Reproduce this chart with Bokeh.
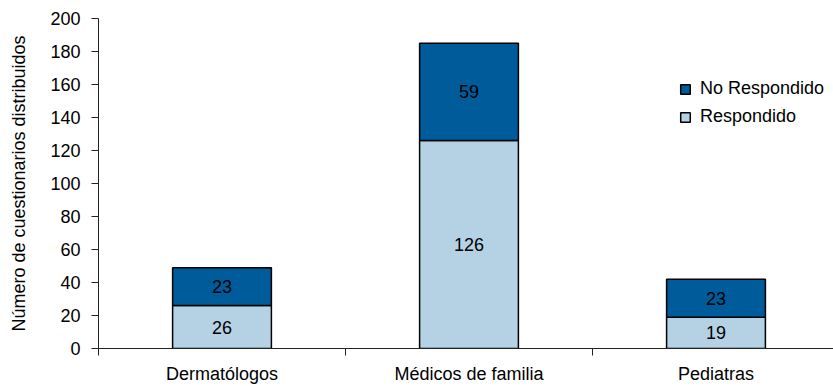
from bokeh.plotting import figure
from bokeh.models import Range1d, FixedTicker, Legend, LegendItem, ColumnDataSource
from bokeh.core.properties import value
from bokeh.embed import file_html
from bokeh.resources import INLINE

categories = ["Dermatólogos", "Médicos de familia", "Pediatras"]
respondido = [26, 126, 19]
no_respondido = [23, 59, 23]
y_ticks = [0, 20, 40, 60, 80, 100, 120, 140, 160, 180, 200]
y_label = "Número de cuestionarios distribuidos"
series_names = ["Respondido", "No Respondido"]

FONT = "Liberation Sans"
DARK = "#005B9B"
LIGHT = "#B5D1E4"

xs = [i + 0.5 for i in range(len(categories))]
totals = [a + b for a, b in zip(respondido, no_respondido)]

src = ColumnDataSource(dict(
    x=xs, resp=respondido, nores=no_respondido, total=totals,
    resp_mid=[r / 2 for r in respondido],
    nores_mid=[r + n / 2 for r, n in zip(respondido, no_respondido)],
    resp_txt=[str(v) for v in respondido],
    nores_txt=[str(v) for v in no_respondido],
))

p = figure(width=833, height=386, output_backend="svg", toolbar_location=None,
           x_range=Range1d(0, 735 / 247), y_range=Range1d(0, 200),
           min_border_left=98, min_border_right=0, min_border_top=18, min_border_bottom=37)
p.outline_line_color = None
p.xgrid.visible = False
p.ygrid.visible = False

r1 = p.vbar(x="x", bottom=0, top="resp", width=0.4, source=src,
            fill_color=LIGHT, line_color="black", line_width=1.5)
r2 = p.vbar(x="x", bottom="resp", top="total", width=0.4, source=src,
            fill_color=DARK, line_color="black", line_width=1.5)

for ycol, tcol in (("resp_mid", "resp_txt"), ("nores_mid", "nores_txt")):
    p.text(x="x", y=ycol, text=tcol, source=src, text_align="center",
           text_baseline="middle", text_font=value(FONT), text_font_size="18px",
           text_color="black")

# Y axis
ya = p.yaxis[0]
ya.ticker = FixedTicker(ticks=y_ticks)
ya.major_tick_in = 0
ya.major_tick_out = 7
ya.minor_tick_in = 0
ya.minor_tick_out = 0
ya.axis_line_color = "#222222"
ya.major_tick_line_color = "#222222"
ya.major_label_text_font = FONT
ya.major_label_text_font_size = "18px"
ya.major_label_text_color = "black"
ya.major_label_standoff = 11
ya.axis_label = y_label
ya.axis_label_text_font = FONT
ya.axis_label_text_font_size = "18px"
ya.axis_label_text_font_style = "normal"
ya.axis_label_text_color = "black"
ya.axis_label_standoff = 18

# X axis
xa = p.xaxis[0]
xa.ticker = FixedTicker(ticks=xs, minor_ticks=[float(i) for i in range(len(categories) + 1)])
xa.major_label_overrides = {x: c for x, c in zip(xs, categories)}
xa.major_tick_in = 0
xa.major_tick_out = 0
xa.minor_tick_in = 0
xa.minor_tick_out = 7
xa.axis_line_color = "#222222"
xa.minor_tick_line_color = "#222222"
xa.major_label_text_font = FONT
xa.major_label_text_font_size = "18px"
xa.major_label_text_color = "black"
xa.major_label_standoff = 8

legend = Legend(items=[LegendItem(label=series_names[1], renderers=[r2]),
                       LegendItem(label=series_names[0], renderers=[r1])],
                location=(581, 221), border_line_color=None, background_fill_alpha=0,
                padding=0, margin=0, spacing=7, glyph_width=12, glyph_height=12,
                label_standoff=9, label_height=20, label_text_font=FONT,
                label_text_font_size="18px", label_text_color="black")
p.add_layout(legend)

open("out.html", "w").write(file_html(p, INLINE))
